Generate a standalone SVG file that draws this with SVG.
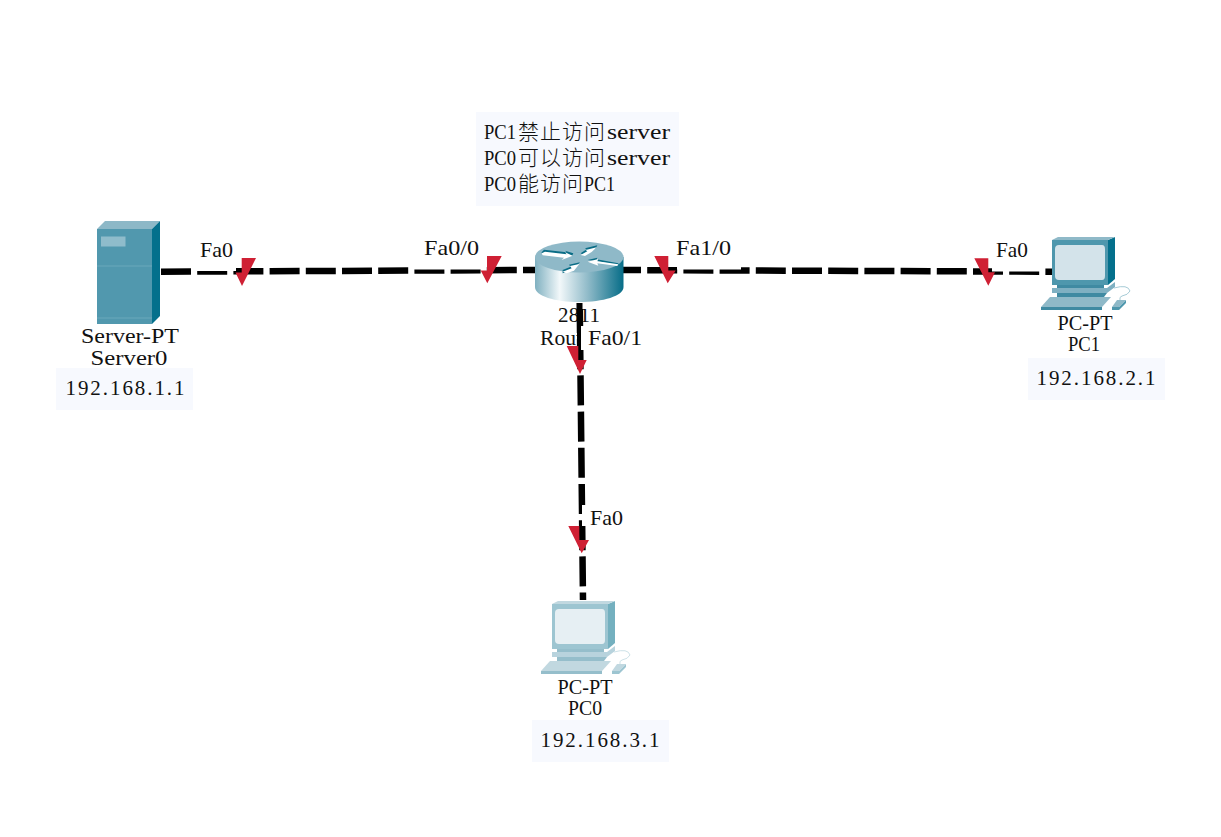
<svg xmlns="http://www.w3.org/2000/svg" width="1221" height="837" viewBox="0 0 1221 837">
<style>
text{font-family:"Liberation Serif","Noto Sans CJK SC",serif;font-size:21px;fill:#111}
.c{text-anchor:middle}
.cjk{font-family:"Noto Sans CJK SC",sans-serif;font-weight:300}
.box{fill:#f7f9fe}
.link{fill:none;stroke:#000;stroke-width:6.500;stroke-dasharray:30 6.200}
.tri{fill:#cf2034}
</style>
<defs>
<linearGradient id="rg" x1="0" x2="1" y1="0" y2="0">
<stop offset="0" stop-color="#7fb0c0"/><stop offset=".28" stop-color="#f2f8fa"/><stop offset=".6" stop-color="#8fbac8"/><stop offset="1" stop-color="#066d88"/>
</linearGradient>
<g id="pc">
<path d="M0 2H56V47H0Z" fill="#4e97ad"/>
<path d="M56 2L63 -1V41L56 47Z" fill="#04708c"/>
<path d="M0 2L6 -1H63L56 2Z" fill="#8fb9c8"/>
<path d="M3 11Q3 7 7 7H50Q53 7 53 11V38Q53 42 50 42H7Q3 42 3 38Z" fill="#d3e3ea"/>
<path d="M5 47H52V50H5Z" fill="#3f8aa2"/>
<path d="M0 50H55L63 44V49L55 55H0Z" fill="#7fb0c2"/>
<path d="M5 55H55L52 59H5Z" fill="#3f8aa2"/>
<path d="M-11 69L-2 59H59L50 69Z" fill="#8fb9c8"/>
<path d="M-11 69H50V72H-11Z" fill="#3f8aa2"/>
<path d="M60 69L65 62H74L67 69Z" fill="#8fb9c8"/>
<path d="M60 69H67L74 62V65L67 72H60Z" fill="#4e97ad"/>
<path d="M62 50Q76 46 78 53Q76 57 70 58Q67 59 68 62" fill="none" stroke="#a6cbd6"/>
</g>
</defs>

<g id="connectors">
<path class="link" d="M161 271.700L535 270"/>
<path class="link" d="M611 270L1052 271.700"/>
<path class="link" d="M579.700 303L583 600"/>
<rect x="192" y="238" width="44" height="33" fill="#fff"/>
<rect x="413" y="238" width="68" height="31.500" fill="#fff"/>
<rect x="677" y="238" width="64" height="31.500" fill="#fff"/>
<rect x="992" y="238" width="49" height="33.500" fill="#fff"/>
<rect x="582" y="505" width="38" height="21" fill="#fff"/>
</g>

<g id="server0">
<path d="M97 229L105 221H160L152 229Z" fill="#8db8c7"/>
<path d="M97 229H152V324H97Z" fill="#5198ae"/>
<path d="M152 229L160 221V316L152 324Z" fill="#04708c"/>
<rect x="101" y="236.500" width="24.500" height="10" fill="#8fbccb"/>
<path d="M97 266H152M97 318H152" stroke="#6aa8bb" fill="none"/>
<text class="c" x="130" y="343" textLength="98" lengthAdjust="spacingAndGlyphs">Server-PT</text>
<text class="c" x="129" y="365" textLength="77" lengthAdjust="spacingAndGlyphs">Server0</text>
<rect class="box" x="56" y="368" width="137" height="42"/>
<text class="c" x="125" y="395" textLength="119">192.168.1.1</text>
</g>

<g id="router0">
<path d="M535 257V287C535 296 555 302 579 302C603 302 623.500 296 623.500 287V257Z" fill="url(#rg)"/>
<ellipse cx="579.300" cy="257" rx="44.300" ry="15.500" fill="#8fb9c8"/>
<g transform="translate(410 220) scale(.3333)">
<path d="M395 97L402 89L470 97L465 92L490 100L486 108L395 100Z" fill="#0a6d86"/>
<path d="M395 100L405 95L470 103L465 97L488 107L455 120L462 113L398 106Z" fill="#fff"/>
<path d="M512 100L530 88L525 85L562 76L558 84L540 92L522 106Z" fill="#0a6d86"/>
<path d="M512 105L532 94L527 90L560 82L545 96L525 108Z" fill="#fff"/>
<path d="M533 120L562 113L560 118L625 130V136L560 123Z" fill="#0a6d86"/>
<path d="M533 125L565 117L562 124L625 133L622 138L562 130L565 137Z" fill="#fff"/>
<path d="M458 150L482 140L477 134L510 127L490 147L458 160Z" fill="#0a6d86"/>
<path d="M458 155L485 145L480 138L508 132L492 152L470 160Z" fill="#fff"/>
</g>
<text class="c" x="579" y="322" textLength="42">2811</text>
<rect x="582" y="303" width="20" height="6" fill="#fff"/>
<text x="540" y="345" textLength="42" lengthAdjust="spacingAndGlyphs">Rout</text>
<rect x="581" y="326" width="6" height="24" fill="#fff"/>
<path d="M577 303H582.500V326H581V346H577Z" fill="#000"/>
</g>

<g id="pc1">
<use href="#pc" x="1052" y="238"/>
<text class="c" x="1085" y="330" textLength="55" lengthAdjust="spacingAndGlyphs">PC-PT</text>
<text class="c" x="1084" y="351" textLength="32" lengthAdjust="spacingAndGlyphs">PC1</text>
<rect class="box" x="1028" y="358" width="137" height="42"/>
<text class="c" x="1096" y="385" textLength="119">192.168.2.1</text>
</g>

<g id="pc0">
<g opacity=".55"><use href="#pc" x="552" y="602"/></g>
<text class="c" x="585" y="694" textLength="55" lengthAdjust="spacingAndGlyphs">PC-PT</text>
<text class="c" x="585" y="715" textLength="34" lengthAdjust="spacingAndGlyphs">PC0</text>
<rect class="box" x="532" y="720" width="137" height="42"/>
<text class="c" x="600" y="747" textLength="119">192.168.3.1</text>
</g>

<g id="note">
<rect class="box" x="476" y="112" width="203" height="94"/>
<text x="484" y="139" textLength="32" lengthAdjust="spacingAndGlyphs">PC1</text><text class="cjk" x="518" y="139" textLength="87">禁止访问</text><text x="607" y="139" textLength="63" lengthAdjust="spacingAndGlyphs">server</text>
<text x="484" y="165" textLength="32" lengthAdjust="spacingAndGlyphs">PC0</text><text class="cjk" x="518" y="165" textLength="87">可以访问</text><text x="607" y="165" textLength="63" lengthAdjust="spacingAndGlyphs">server</text>
<text x="484" y="191" textLength="32" lengthAdjust="spacingAndGlyphs">PC0</text><text class="cjk" x="518" y="191" textLength="65">能访问</text><text x="584" y="191" textLength="31" lengthAdjust="spacingAndGlyphs">PC1</text>
</g>

<g id="port-labels">
<text x="200" y="257" textLength="33" lengthAdjust="spacingAndGlyphs">Fa0</text>
<text x="424" y="255" textLength="55" lengthAdjust="spacingAndGlyphs">Fa0/0</text>
<text x="676" y="255" textLength="55" lengthAdjust="spacingAndGlyphs">Fa1/0</text>
<text x="996" y="257" textLength="32" lengthAdjust="spacingAndGlyphs">Fa0</text>
<text x="588" y="345" textLength="54" lengthAdjust="spacingAndGlyphs">Fa0/1</text>
<text x="590" y="525" textLength="33" lengthAdjust="spacingAndGlyphs">Fa0</text>
</g>

<g id="markers">
<path class="tri" d="M241.700 258H256L242 286L235.500 272.500H241.700Z"/>
<path class="tri" d="M487 256H501.700L487.300 283.300L480.700 270.500H487Z"/>
<path class="tri" d="M654.300 256H668.300V270.500H675.700L667.700 283.300Z"/>
<path class="tri" d="M974.300 258.300H988.300V272.300H995L988.300 285.700Z"/>
<path class="tri" d="M566.700 346H578.300V360H586.700L580 374Z"/>
<path class="tri" d="M568.300 526H579.300V540H589L581.700 553.300Z"/>
</g>
</svg>
